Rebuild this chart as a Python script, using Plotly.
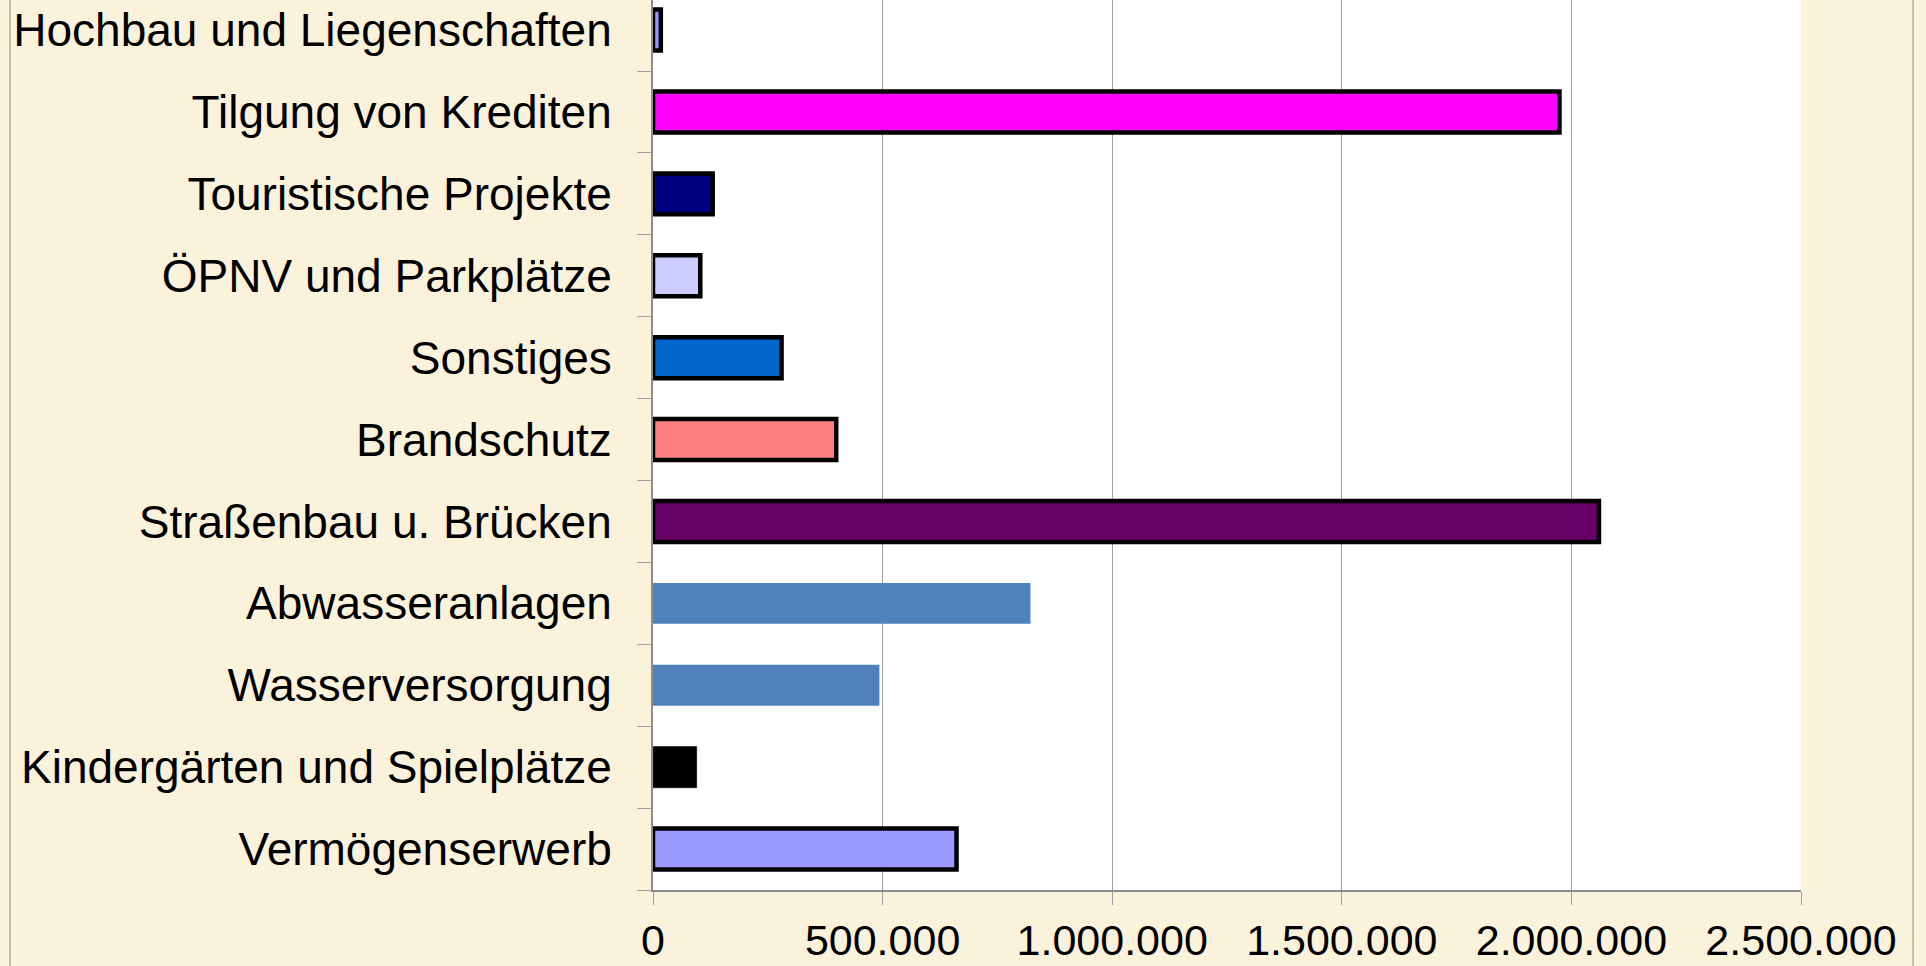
import plotly.graph_objects as go

categories = [
    "Vermögenserwerb",
    "Kindergärten und Spielplätze",
    "Wasserversorgung",
    "Abwasseranlagen",
    "Straßenbau u. Brücken",
    "Brandschutz",
    "Sonstiges",
    "ÖPNV und Parkplätze",
    "Touristische Projekte",
    "Tilgung von Krediten",
    "Hochbau und Liegenschaften",
]
values = [661000, 95000, 493000, 822000, 2060000, 399000, 280000, 103000, 130000, 1974000, 17000]
bar_colors = ["#9999FF", "#000000", "#4F81BD", "#4F81BD", "#660066", "#FF8080",
              "#0066CC", "#CCCCFF", "#000080", "#FF00FF", "#9999FF"]
outline_colors = ["#000000", "#222222", "#4F81BD", "#4F81BD", "#000000", "#000000",
                  "#000000", "#000000", "#000000", "#000000", "#000000"]
outline_widths = [4.5, 1, 0, 0, 4.5, 4.5, 4.5, 4.5, 4.5, 4.5, 4.5]
x_ticks = [0, 500000, 1000000, 1500000, 2000000, 2500000]

W, H = 1926, 966
ML, MR, MT, MB = 653, 125, 0, 76

fig = go.Figure(go.Bar(
    x=values, y=categories, orientation="h",
    width=0.5,
    marker=dict(color=bar_colors, line=dict(color=outline_colors, width=outline_widths)),
    hoverinfo="x+y",
))

font = "Liberation Sans, Arial, sans-serif"
fig.update_layout(
    width=W, height=H,
    margin=dict(l=ML, r=MR, t=MT, b=MB, pad=0, autoexpand=False),
    paper_bgcolor="#FBF2DC",
    plot_bgcolor="#FFFFFF",
    separators=",.",
    showlegend=False,
    font=dict(family=font, color="#000000"),
    xaxis=dict(
        range=[0, 2500000], tickvals=x_ticks, tickformat=",.0f",
        showgrid=True, gridcolor="#A0A0A0", gridwidth=1.3,
        zeroline=False, showline=True, linecolor="#8C8C8C", linewidth=2,
        ticks="outside", ticklen=13, tickcolor="#A0A0A0", tickwidth=1.3,
        tickfont=dict(size=43, family=font), ticklabelstandoff=-2,
        automargin=False, fixedrange=True,
    ),
    yaxis=dict(
        type="category", categoryorder="array", categoryarray=categories,
        range=[-0.5, 10.367],
        showgrid=False, zeroline=False, showline=True, linecolor="#8C8C8C", linewidth=2,
        ticks="outside", ticklen=14, tickcolor="#A0A0A0", tickwidth=1.3,
        tickson="boundaries",
        tickfont=dict(size=46, family=font), ticklabelstandoff=30,
        automargin=False, fixedrange=True,
    ),
)

# decorative frame lines of the slide background
fx0 = (10 - ML) / (W - ML - MR)
fx1 = (1913 - ML) / (W - ML - MR)
fy0 = -MB / (H - MT - MB)
fy1 = 1 + MT / (H - MT - MB)
for fx in (fx0, fx1):
    fig.add_shape(type="line", xref="paper", yref="paper", x0=fx, x1=fx, y0=fy0, y1=fy1,
                  line=dict(color="#B5AC9A", width=1.5), layer="below")

fig.write_html(
    "out.html",
    config={"displayModeBar": False},
    post_script="document.body.style.margin='0';document.body.style.overflow='hidden';",
)
